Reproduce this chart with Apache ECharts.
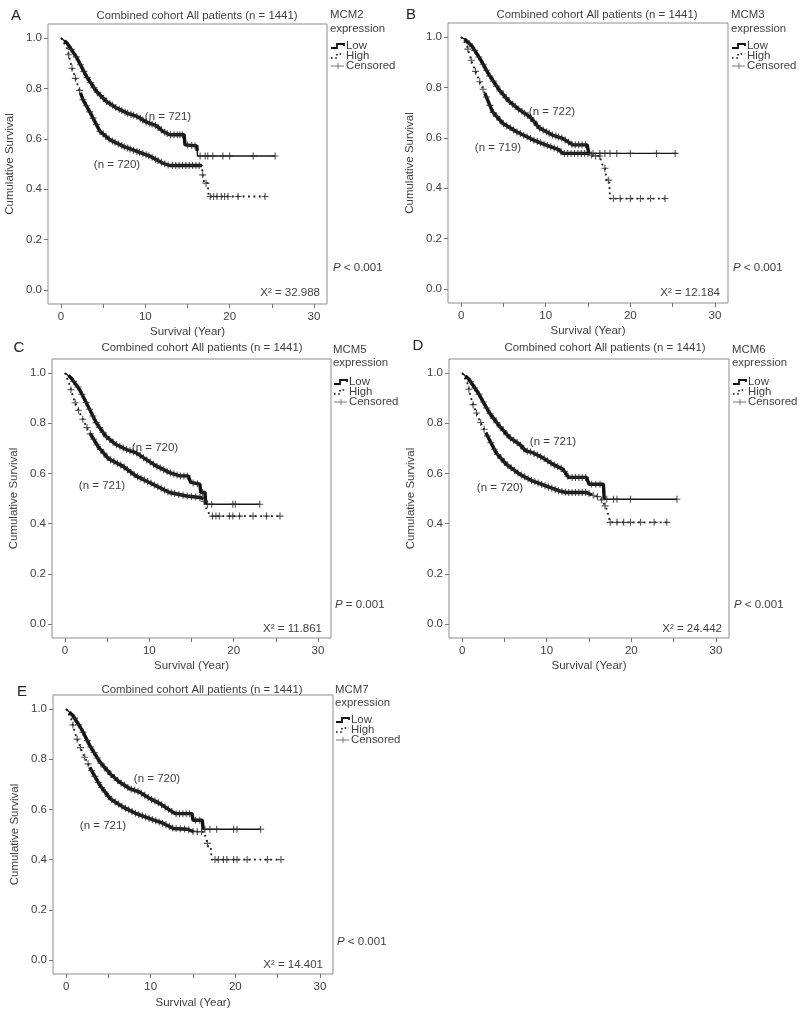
<!DOCTYPE html>
<html>
<head>
<meta charset="utf-8">
<script src="https://cdn.jsdelivr.net/npm/echarts@6/dist/echarts.min.js"></script>
<style>html,body{margin:0;padding:0;background:#fff}#c{width:800px;height:1018px}</style>
</head>
<body>
<div id="c"></div>
<script>
// ---- data ----
const xTicks = [0, 5, 10, 15, 20, 25, 30];
const xLabels = [0, 10, 20, 30];
const yLabels = [0, 0.2, 0.4, 0.6, 0.8, 1.0];
const panelLetters = ['A', 'B', 'C', 'D', 'E'];
const genes = ['MCM2', 'MCM3', 'MCM5', 'MCM6', 'MCM7'];
const chiSq = ['32.988', '12.184', '11.861', '24.442', '14.401'];
const pTexts = ['< 0.001', '< 0.001', '= 0.001', '< 0.001', '< 0.001'];
const nLow = [721, 722, 720, 721, 720];
const nHigh = [720, 719, 721, 720, 721];
const titleText = 'Combined cohort All patients (n = 1441)';

const lowA = [[0,1],[0.7,0.98],[1.9,0.92],[3.0,0.848],[4.2,0.788],[5.4,0.748],[6.6,0.722],[7.8,0.702],[9.0,0.689],[10.2,0.665],[11.3,0.652],[12.1,0.629],[12.9,0.616],[14.6,0.616],[14.7,0.576],[16.1,0.572],[16.2,0.532],[25.4,0.532]];
const highA = [[0,1],[0.7,0.96],[1.3,0.88],[1.9,0.82],[2.6,0.755],[3.6,0.695],[4.6,0.63],[5.8,0.596],[7.4,0.57],[9.0,0.55],[10.6,0.53],[12.1,0.503],[12.9,0.494],[16.7,0.494],[16.8,0.457],[17.0,0.424],[17.4,0.424],[17.5,0.371],[24.2,0.371]];
const lowB = [[0,1],[0.5,0.99],[1.3,0.963],[2.3,0.91],[3.3,0.85],[4.5,0.79],[5.7,0.744],[6.9,0.711],[8.1,0.684],[8.6,0.665],[9.2,0.64],[10.8,0.611],[12.0,0.598],[13.2,0.572],[14.9,0.572],[15.1,0.538],[25.5,0.538]];
const highB = [[0,1],[0.7,0.963],[1.3,0.897],[2.1,0.83],[2.9,0.77],[3.7,0.704],[4.9,0.658],[6.5,0.625],[8.5,0.592],[10.0,0.572],[11.6,0.552],[12.0,0.538],[15.2,0.538],[15.5,0.528],[16.4,0.528],[16.6,0.499],[17.0,0.479],[17.2,0.432],[17.5,0.432],[17.6,0.359],[24.1,0.359]];
const lowC = [[0,1],[0.7,0.981],[1.7,0.935],[2.7,0.869],[3.7,0.802],[4.8,0.749],[6.0,0.716],[7.2,0.696],[8.4,0.683],[9.6,0.656],[10.8,0.63],[12.4,0.603],[13.6,0.59],[14.6,0.59],[14.9,0.564],[16.0,0.557],[16.1,0.524],[16.6,0.524],[16.7,0.477],[23.1,0.477]];
const highC = [[0,1],[0.5,0.955],[1.1,0.889],[1.9,0.829],[2.9,0.763],[4.0,0.703],[5.2,0.657],[6.8,0.63],[8.4,0.59],[10.0,0.564],[11.6,0.537],[12.4,0.524],[14.4,0.51],[16.0,0.504],[16.4,0.5],[16.8,0.455],[17.3,0.43],[25.5,0.43]];
const lowD = [[0,1],[0.8,0.975],[2.0,0.915],[3.2,0.842],[4.4,0.789],[5.6,0.743],[6.8,0.716],[7.5,0.69],[8.3,0.683],[9.5,0.663],[10.7,0.637],[11.9,0.617],[12.6,0.584],[14.7,0.584],[15.0,0.557],[16.7,0.557],[16.8,0.497],[25.4,0.497]];
const highD = [[0,1],[0.6,0.962],[1.2,0.882],[2.0,0.816],[3.0,0.749],[4.0,0.683],[5.2,0.637],[6.8,0.597],[8.3,0.57],[9.9,0.55],[11.5,0.53],[12.3,0.524],[14.7,0.524],[15.3,0.515],[16.3,0.504],[16.7,0.484],[17.1,0.457],[17.4,0.418],[17.5,0.405],[24.2,0.405]];
const lowE = [[0,1],[0.8,0.974],[1.8,0.921],[2.8,0.854],[4.0,0.788],[5.2,0.742],[6.3,0.709],[7.5,0.683],[8.7,0.669],[9.9,0.643],[11.1,0.623],[12.3,0.596],[12.9,0.583],[14.9,0.583],[15.0,0.557],[16.1,0.557],[16.2,0.521],[23.0,0.521]];
const highE = [[0,1],[0.6,0.96],[1.2,0.888],[2.0,0.821],[3.0,0.755],[4.0,0.696],[5.2,0.643],[6.7,0.61],[8.3,0.583],[9.9,0.563],[11.5,0.544],[12.7,0.524],[14.3,0.521],[15.1,0.511],[16.3,0.511],[16.6,0.478],[16.8,0.451],[17.1,0.451],[17.2,0.4],[25.4,0.4]];

const censLowA = [1.2,1.8,2.3,2.7,3.1,3.5,3.9,4.3,4.7,5.0,5.4,5.8,6.1,6.5,6.9,7.2,7.6,7.9,8.3,8.6,9.0,9.4,9.7,10.1,10.5,10.8,11.2,11.5,11.9,12.3,12.6,13.0,13.4,13.8,14.1,14.4,15.0,15.5,15.9,16.5,17.1,17.4,18.0,19.2,20.0,22.8,25.4];
const censHighA = [0.9,1.3,1.7,2.2,2.6,3.0,3.4,3.8,4.2,4.6,5.0,5.3,5.7,6.1,6.4,6.8,7.2,7.5,7.9,8.2,8.6,9.0,9.3,9.7,10.1,10.4,10.8,11.2,11.5,11.9,12.3,12.7,13.2,13.6,14.0,14.4,14.8,15.2,15.6,16.0,16.4,16.8,17.2,17.7,18.1,18.5,19.0,19.4,19.8,21.0,24.2];
const censLowB = [1.0,1.6,2.1,2.6,3.0,3.4,3.8,4.2,4.6,5.0,5.3,5.7,6.1,6.4,6.8,7.2,7.5,7.9,8.2,8.6,9.0,9.3,9.7,10.1,10.4,10.8,11.2,11.5,11.9,12.3,12.7,13.1,13.5,13.9,14.3,14.7,15.6,16.4,17.0,17.6,18.4,20.0,23.1,25.3];
const censHighB = [0.8,1.2,1.7,2.2,2.6,3.0,3.4,3.8,4.2,4.6,5.0,5.4,5.8,6.2,6.6,7.0,7.4,7.8,8.2,8.6,9.0,9.4,9.8,10.2,10.6,11.0,11.4,11.8,12.2,12.6,13.0,13.4,13.8,14.2,14.6,15.0,15.4,15.9,16.4,17.0,17.4,18.0,18.8,20.0,21.2,22.4,24.1];
const censLowC = [1.0,1.5,2.0,2.5,2.9,3.3,3.7,4.1,4.5,4.9,5.3,5.7,6.1,6.5,6.9,7.3,7.7,8.1,8.5,8.9,9.3,9.7,10.1,10.5,10.9,11.3,11.7,12.1,12.5,12.9,13.3,13.7,14.1,14.5,15.2,15.7,16.3,16.9,17.4,19.9,20.2,23.1];
const censHighC = [0.7,1.2,1.6,2.1,2.6,3.0,3.4,3.8,4.2,4.6,5.0,5.4,5.8,6.2,6.6,7.0,7.4,7.8,8.2,8.6,9.0,9.4,9.8,10.2,10.6,11.0,11.4,11.8,12.2,12.6,13.0,13.5,14.0,14.5,15.0,15.5,16.0,16.5,17.5,17.9,18.3,19.5,19.9,20.7,22.3,23.9,25.5];
const censLowD = [1.0,1.5,2.0,2.5,2.9,3.3,3.7,4.1,4.5,4.9,5.3,5.7,6.1,6.5,6.9,7.3,7.7,8.1,8.5,8.9,9.3,9.7,10.1,10.5,10.9,11.3,11.7,12.1,12.5,13.0,13.4,13.8,14.2,14.6,15.3,15.8,16.3,17.1,17.9,18.3,19.9,25.4];
const censHighD = [0.8,1.3,1.7,2.2,2.6,3.0,3.4,3.8,4.2,4.6,5.0,5.4,5.8,6.2,6.6,7.0,7.4,7.8,8.2,8.6,9.0,9.4,9.8,10.2,10.6,11.0,11.4,11.8,12.2,12.6,13.0,13.4,13.8,14.2,14.6,15.0,15.5,16.0,16.5,16.9,17.5,18.3,19.1,19.9,21.1,22.7,24.2];
const censLowE = [1.0,1.5,2.0,2.5,2.9,3.3,3.7,4.1,4.5,4.9,5.3,5.7,6.1,6.5,6.9,7.3,7.7,8.1,8.5,8.9,9.3,9.7,10.1,10.5,10.9,11.3,11.7,12.1,12.5,13.0,13.4,13.8,14.2,14.6,15.3,15.8,16.4,17.0,17.8,19.8,20.2,23.0];
const censHighE = [0.8,1.3,1.7,2.2,2.6,3.0,3.4,3.8,4.2,4.6,5.0,5.4,5.8,6.2,6.6,7.0,7.4,7.8,8.2,8.6,9.0,9.4,9.8,10.2,10.6,11.0,11.4,11.8,12.2,12.6,13.0,13.5,14.0,14.5,15.0,15.5,16.0,16.7,17.6,18.0,18.6,19.0,19.8,20.2,21.4,23.8,25.4];

const lowCurves = [lowA, lowB, lowC, lowD, lowE];
const highCurves = [highA, highB, highC, highD, highE];
const censLow = [censLowA, censLowB, censLowC, censLowD, censLowE];
const censHigh = [censHighA, censHighB, censHighC, censHighD, censHighE];

// ---- layout (pixel positions of each panel; heavy-stroke spans) ----
const layout = [
  {box:[48,24,279,280], letter:[16,16], title:[197,16], gene:[330,15], expr:29, leg:[46,56,66], p:[333,268], chi:[320,293], nl:[168,117], nh:[117,165], xname:22, bandLow:[0.4,16.15], bandHigh:[2.3,16.7]},
  {box:[448,23,280,280], letter:[411,15], title:[597,15], gene:[731,15], expr:29, leg:[46,56,66], p:[733,268], chi:[720,293], nl:[552,112], nh:[498,148], xname:22, bandLow:[0.4,15.1], bandHigh:[2.8,15.2]},
  {box:[52,359,279,279], letter:[19,348], title:[202,348], gene:[333,350], expr:363, leg:[382,392,402], p:[335,605], chi:[322,629], nl:[155,448], nh:[102,486], xname:22, bandLow:[0.4,16.7], bandHigh:[3.0,16.4]},
  {box:[449,359,280,279], letter:[418,346], title:[605,348], gene:[732,350], expr:363, leg:[382,392,402], p:[734,605], chi:[722,629], nl:[553,442], nh:[500,488], xname:22, bandLow:[0.4,16.8], bandHigh:[2.8,15.3]},
  {box:[53,695,280,279], letter:[22,692], title:[202,690], gene:[335,690], expr:703, leg:[720,730,740], p:[337,942], chi:[323,965], nl:[157,779], nh:[103,826], xname:23, bandLow:[0.4,16.2], bandHigh:[2.8,15.1]}
];

const TXT = '#3f3f3f';
const FONT = 'Liberation Sans, Arial, sans-serif';
const plusPath = 'path://M4.2,0H5.8V4.2H10V5.8H5.8V10H4.2V5.8H0V4.2H4.2Z';

function at(curve, t) {
  for (let i = 0; i < curve.length - 1; i++) {
    const [x0, y0] = curve[i], [x1, y1] = curve[i + 1];
    if (t >= x0 && t <= x1 && x1 > x0) return y0 + (y1 - y0) * (t - x0) / (x1 - x0);
  }
  return curve[curve.length - 1][1];
}
function span(curve, r) {
  const out = [[r[0], at(curve, r[0])]];
  curve.forEach(p => { if (p[0] > r[0] && p[0] < r[1]) out.push(p); });
  out.push([r[1], at(curve, r[1])]);
  return out;
}

const grids = [], xAxes = [], yAxes = [], series = [], graphics = [];
function txt(x, y, text, size, align, extra) {
  graphics.push({type:'text', silent:true, style:Object.assign({
    x:x, y:y, text:text, fill:TXT, font: size + 'px ' + FONT,
    align:align||'center', verticalAlign:'middle',
    textAlign:align||'center', textVerticalAlign:'middle'
  }, extra||{})});
}

layout.forEach((L, i) => {
  const [left, top, w, h] = L.box;
  grids.push({left:left, top:top, width:w, height:h, show:true, borderColor:'#8d8d8d', borderWidth:1, backgroundColor:'transparent'});
  xAxes.push({
    type:'value', gridIndex:i, min:-1.55, max:31.55, position:'bottom',
    axisLine:{show:false, onZero:false},
    axisTick:{show:true, customValues:xTicks, length:4, lineStyle:{color:'#777'}},
    axisLabel:{customValues:xLabels, color:TXT, fontSize:11.5, fontFamily:FONT, margin:7},
    splitLine:{show:false},
    name:'Survival (Year)', nameLocation:'middle', nameGap:L.xname,
    nameTextStyle:{color:TXT, fontSize:11.5, fontFamily:FONT}
  });
  yAxes.push({
    type:'value', gridIndex:i, min:-0.0556, max:1.0556, position:'left',
    axisLine:{show:false, onZero:false},
    axisTick:{show:true, customValues:yLabels, length:4, lineStyle:{color:'#777'}},
    axisLabel:{customValues:yLabels, color:TXT, fontSize:11.5, fontFamily:FONT, margin:6, formatter:v => v.toFixed(1)},
    splitLine:{show:false},
    name:'Cumulative Survival', nameLocation:'middle', nameGap:32, nameRotate:90,
    nameTextStyle:{color:TXT, fontSize:11.5, fontFamily:FONT}
  });
  series.push({type:'line', xAxisIndex:i, yAxisIndex:i, data:lowCurves[i], showSymbol:false, symbol:'none',
    lineStyle:{color:'#161616', width:1.4}, z:3, animation:false, silent:true});
  series.push({type:'line', xAxisIndex:i, yAxisIndex:i, data:highCurves[i], showSymbol:false, symbol:'none',
    lineStyle:{color:'#161616', width:1.8, type:[1.8,3.6]}, z:3, animation:false, silent:true});
  // heavy stretches where censor marks pile up into a solid band
  series.push({type:'line', xAxisIndex:i, yAxisIndex:i, data:span(lowCurves[i], L.bandLow), showSymbol:false, symbol:'none',
    lineStyle:{color:'#111', width:3.4}, z:3, animation:false, silent:true});
  series.push({type:'line', xAxisIndex:i, yAxisIndex:i, data:span(highCurves[i], L.bandHigh), showSymbol:false, symbol:'none',
    lineStyle:{color:'#111', width:3.4}, z:3, animation:false, silent:true});
  series.push({type:'scatter', xAxisIndex:i, yAxisIndex:i, data:censLow[i].map(t => [t, at(lowCurves[i], t)]),
    symbol:plusPath, symbolSize:7, itemStyle:{color:'#2a2a2a'}, z:4, animation:false, silent:true});
  series.push({type:'scatter', xAxisIndex:i, yAxisIndex:i, data:censHigh[i].map(t => [t, at(highCurves[i], t)]),
    symbol:plusPath, symbolSize:7, itemStyle:{color:'#2a2a2a'}, z:4, animation:false, silent:true});

  // texts
  txt(L.letter[0], L.letter[1], panelLetters[i], 15, 'center', {fill:'#222'});
  txt(L.title[0], L.title[1], titleText, 11.4, 'center');
  txt(L.gene[0], L.gene[1], genes[i], 11.4, 'left');
  txt(L.gene[0], L.expr, 'expression', 11.4, 'left');
  const sx = L.gene[0] + 1;
  const tx = sx + 15;
  txt(tx, L.leg[0], 'Low', 11.4, 'left');
  txt(tx, L.leg[1], 'High', 11.4, 'left');
  txt(tx, L.leg[2], 'Censored', 11.4, 'left');
  graphics.push({type:'polyline', silent:true, shape:{points:[[sx, L.leg[0]+2],[sx+6, L.leg[0]+2],[sx+6, L.leg[0]-2],[sx+13, L.leg[0]-2],[sx+13, L.leg[0]]]},
    style:{stroke:'#111', lineWidth:1.8, fill:null}});
  graphics.push({type:'polyline', silent:true, shape:{points:[[sx, L.leg[1]+2],[sx+6, L.leg[1]+2],[sx+6, L.leg[1]-2],[sx+13, L.leg[1]-2]]},
    style:{stroke:'#111', lineWidth:1.6, fill:null, lineDash:[1.6,2.6]}});
  graphics.push({type:'line', silent:true, shape:{x1:sx, y1:L.leg[2], x2:sx+13, y2:L.leg[2]}, style:{stroke:'#777', lineWidth:1}});
  graphics.push({type:'line', silent:true, shape:{x1:sx+7, y1:L.leg[2]-3, x2:sx+7, y2:L.leg[2]+3}, style:{stroke:'#777', lineWidth:1}});
  graphics.push({type:'text', silent:true, style:{x:L.p[0], y:L.p[1], text:'{i|P} ' + pTexts[i],
    fill:TXT, font:'11.5px ' + FONT, align:'left', verticalAlign:'middle', textAlign:'left', textVerticalAlign:'middle',
    rich:{i:{fontStyle:'italic', fontSize:11.5, fontFamily:FONT, fill:TXT, color:TXT}}}});
  txt(L.chi[0], L.chi[1], 'X\u00B2 = ' + chiSq[i], 11.5, 'right');
  txt(L.nl[0], L.nl[1], '(n = ' + nLow[i] + ')', 11.5, 'center');
  txt(L.nh[0], L.nh[1], '(n = ' + nHigh[i] + ')', 11.5, 'center');
});

const chart = echarts.init(document.getElementById('c'), null, {renderer:'canvas'});
chart.setOption({
  animation:false,
  backgroundColor:'#fff',
  textStyle:{fontFamily:FONT},
  grid:grids, xAxis:xAxes, yAxis:yAxes, series:series, graphic:graphics
});
</script>
</body>
</html>
